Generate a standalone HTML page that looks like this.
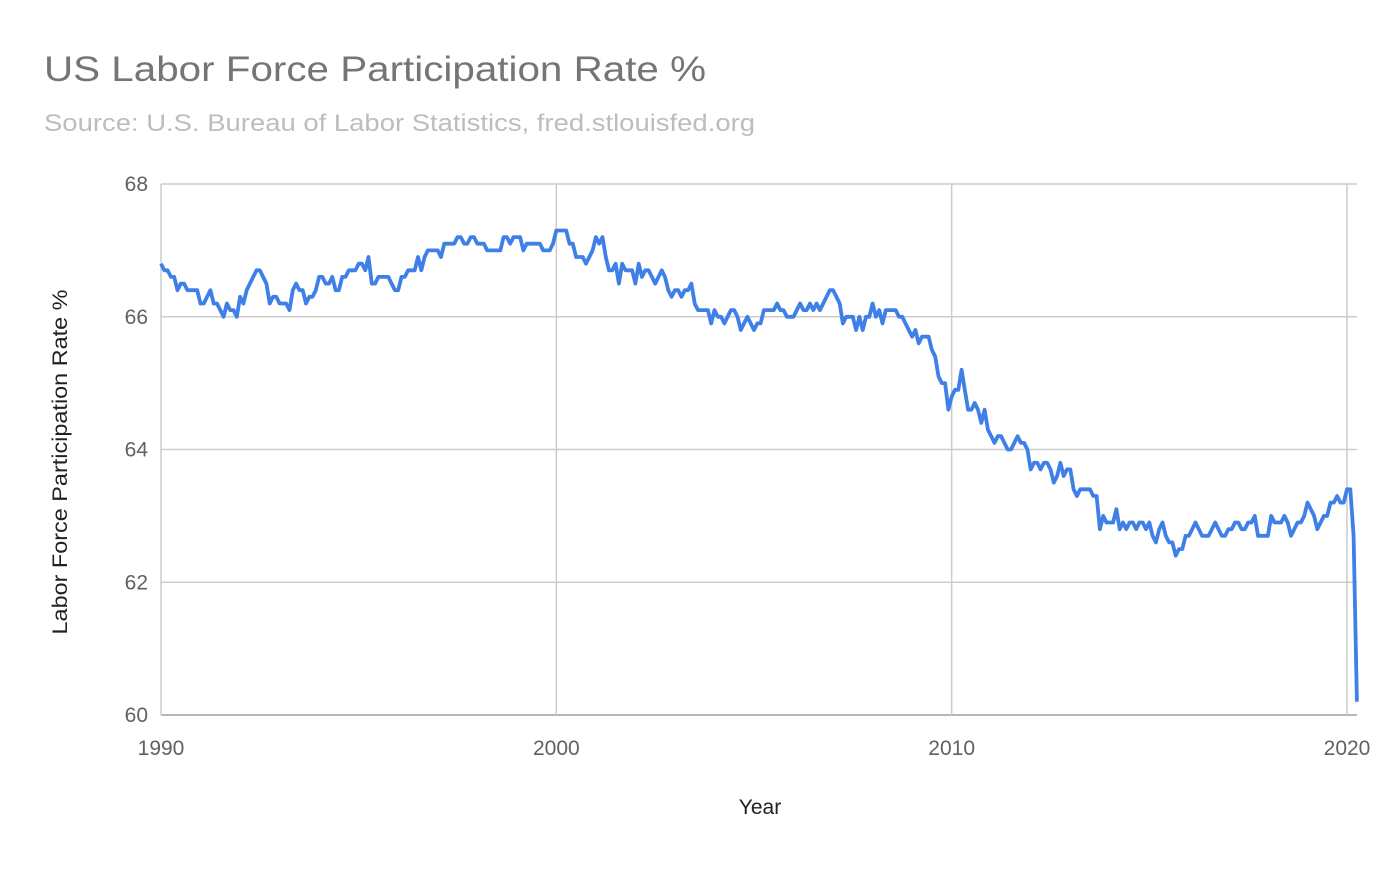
<!DOCTYPE html>
<html><head><meta charset="utf-8"><style>
body{margin:0;background:#fff;width:1400px;height:865px;overflow:hidden;font-family:"Liberation Sans",sans-serif}
</style></head><body>
<svg id="chart" width="1400" height="865" xmlns="http://www.w3.org/2000/svg" font-family="Liberation Sans, sans-serif">
<text x="44" y="81" font-size="35" fill="#757575" textLength="662" lengthAdjust="spacingAndGlyphs">US Labor Force Participation Rate %</text>
<text x="44" y="131" font-size="24" fill="#bdbdbd" textLength="711" lengthAdjust="spacingAndGlyphs">Source: U.S. Bureau of Labor Statistics, fred.stlouisfed.org</text>
<g id="grid"></g>
<g id="ticks"></g>
<text x="760" y="814" font-size="21" fill="#222" text-anchor="middle">Year</text>
<text transform="translate(67,462) rotate(-90)" font-size="21" fill="#222" text-anchor="middle" textLength="345" lengthAdjust="spacingAndGlyphs">Labor Force Participation Rate %</text>
</svg>
<script>
const startYear = 1990;
const yTicks = [60, 62, 64, 66, 68];
const xTicks = [1990, 2000, 2010, 2020];
const rates = [
66.8,66.7,66.7,66.6,66.6,66.4,66.5,66.5,66.4,66.4,66.4,66.4,
66.2,66.2,66.3,66.4,66.2,66.2,66.1,66.0,66.2,66.1,66.1,66.0,
66.3,66.2,66.4,66.5,66.6,66.7,66.7,66.6,66.5,66.2,66.3,66.3,
66.2,66.2,66.2,66.1,66.4,66.5,66.4,66.4,66.2,66.3,66.3,66.4,
66.6,66.6,66.5,66.5,66.6,66.4,66.4,66.6,66.6,66.7,66.7,66.7,
66.8,66.8,66.7,66.9,66.5,66.5,66.6,66.6,66.6,66.6,66.5,66.4,
66.4,66.6,66.6,66.7,66.7,66.7,66.9,66.7,66.9,67.0,67.0,67.0,
67.0,66.9,67.1,67.1,67.1,67.1,67.2,67.2,67.1,67.1,67.2,67.2,
67.1,67.1,67.1,67.0,67.0,67.0,67.0,67.0,67.2,67.2,67.1,67.2,
67.2,67.2,67.0,67.1,67.1,67.1,67.1,67.1,67.0,67.0,67.0,67.1,
67.3,67.3,67.3,67.3,67.1,67.1,66.9,66.9,66.9,66.8,66.9,67.0,
67.2,67.1,67.2,66.9,66.7,66.7,66.8,66.5,66.8,66.7,66.7,66.7,
66.5,66.8,66.6,66.7,66.7,66.6,66.5,66.6,66.7,66.6,66.4,66.3,
66.4,66.4,66.3,66.4,66.4,66.5,66.2,66.1,66.1,66.1,66.1,65.9,
66.1,66.0,66.0,65.9,66.0,66.1,66.1,66.0,65.8,65.9,66.0,65.9,
65.8,65.9,65.9,66.1,66.1,66.1,66.1,66.2,66.1,66.1,66.0,66.0,
66.0,66.1,66.2,66.1,66.1,66.2,66.1,66.2,66.1,66.2,66.3,66.4,
66.4,66.3,66.2,65.9,66.0,66.0,66.0,65.8,66.0,65.8,66.0,66.0,
66.2,66.0,66.1,65.9,66.1,66.1,66.1,66.1,66.0,66.0,65.9,65.8,
65.7,65.8,65.6,65.7,65.7,65.7,65.5,65.4,65.1,65.0,65.0,64.6,
64.8,64.9,64.9,65.2,64.9,64.6,64.6,64.7,64.6,64.4,64.6,64.3,
64.2,64.1,64.2,64.2,64.1,64.0,64.0,64.1,64.2,64.1,64.1,64.0,
63.7,63.8,63.8,63.7,63.8,63.8,63.7,63.5,63.6,63.8,63.6,63.7,
63.7,63.4,63.3,63.4,63.4,63.4,63.4,63.3,63.3,62.8,63.0,62.9,
62.9,62.9,63.1,62.8,62.9,62.8,62.9,62.9,62.8,62.9,62.9,62.8,
62.9,62.7,62.6,62.8,62.9,62.7,62.6,62.6,62.4,62.5,62.5,62.7,
62.7,62.8,62.9,62.8,62.7,62.7,62.7,62.8,62.9,62.8,62.7,62.7,
62.8,62.8,62.9,62.9,62.8,62.8,62.9,62.9,63.0,62.7,62.7,62.7,
62.7,63.0,62.9,62.9,62.9,63.0,62.9,62.7,62.8,62.9,62.9,63.0,
63.2,63.1,63.0,62.8,62.9,63.0,63.0,63.2,63.2,63.3,63.2,63.2,
63.4,63.4,62.7,60.2];

const NS = "http://www.w3.org/2000/svg";
const X0 = 161, X1 = 1347, Y0 = 715, Y1 = 184, RIGHT = 1357;
function xScale(year){ return X0 + (year - 1990) / 30 * (X1 - X0); }
function yScale(v){ return Y0 - (v - 60) / 8 * (Y0 - Y1); }
const svg = document.getElementById('chart');
const grid = document.getElementById('grid');
const ticks = document.getElementById('ticks');
function mk(tag, attrs, parent){ const e = document.createElementNS(NS, tag); for (const k in attrs) e.setAttribute(k, attrs[k]); parent.appendChild(e); return e; }

yTicks.forEach(v => {
  const y = yScale(v);
  const l = mk('line', {x1: X0, x2: RIGHT, y1: y, y2: y, stroke: v === 60 ? '#9e9e9e' : '#cccccc', 'stroke-width': 1.5}, grid);
  
  
  const t = mk('text', {x: 148, y: y + 7, 'font-size': 21, fill: '#616161', 'text-anchor': 'end'}, ticks);
  t.textContent = v;
  
  
});
xTicks.forEach(yr => {
  const x = xScale(yr);
  const l = mk('line', {x1: x, x2: x, y1: Y1, y2: Y0, stroke: '#cccccc', 'stroke-width': 1.5}, grid);
  
  
  const t = mk('text', {x: x, y: 755, 'font-size': 21, fill: '#616161', 'text-anchor': 'middle'}, ticks);
  t.textContent = yr;
  
  
});
const pts = rates.map((v, i) => xScale(startYear + i / 12).toFixed(1) + ',' + yScale(v).toFixed(1)).join(' ');
const line = mk('polyline', {points: pts, fill: 'none', stroke: '#3f7fe8', 'stroke-width': 3.8, 'stroke-linejoin': 'round'}, svg);


</script>
</body></html>
